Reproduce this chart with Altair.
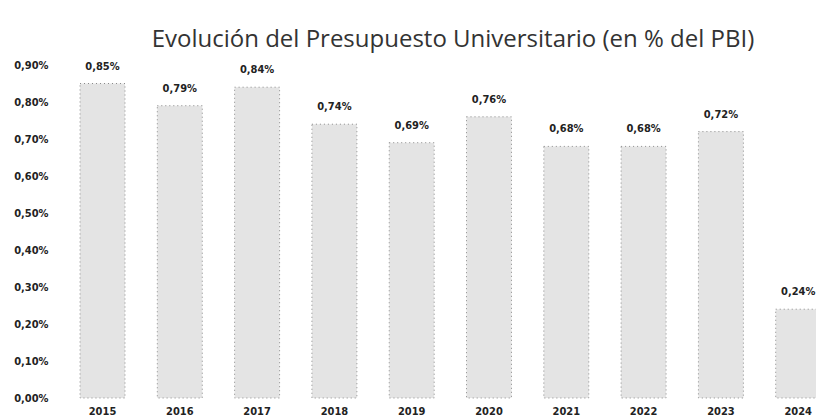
import altair as alt
import pandas as pd

years = ["2015", "2016", "2017", "2018", "2019", "2020", "2021", "2022", "2023", "2024"]
values = [0.85, 0.79, 0.84, 0.74, 0.69, 0.76, 0.68, 0.68, 0.72, 0.24]
y_ticks = [0.0, 0.1, 0.2, 0.3, 0.4, 0.5, 0.6, 0.7, 0.8, 0.9]
title_text = "Evolución del Presupuesto Universitario (en % del PBI)"

df = pd.DataFrame({"anio": years, "valor": values})

LABEL_FONT = "Liberation Sans Narrow, DejaVu Sans Condensed, Liberation Sans, sans-serif"

x_enc = alt.X(
    "anio:N",
    sort=years,
    scale=alt.Scale(range=[18, 758.7], paddingInner=0.418, paddingOuter=0),
    axis=alt.Axis(
        title=None, labelAngle=0, domain=False, ticks=False, grid=False,
        labelFont=LABEL_FONT, labelFontWeight="bold", labelFontSize=11,
        labelColor="#222222", labelPadding=7,
    ),
)
y_enc = alt.Y(
    "valor:Q",
    scale=alt.Scale(domain=[0, 0.9], nice=False),
    axis=alt.Axis(
        title=None, values=y_ticks, domain=False, ticks=False, grid=False,
        labelExpr="replace(format(datum.value, '.2f'), '.', ',') + '%'",
        labelFont=LABEL_FONT, labelFontWeight="bold", labelFontSize=11,
        labelColor="#222222", labelPadding=14,
    ),
)

base = alt.Chart(df).encode(x=x_enc, y=y_enc)

bars = base.mark_bar(
    fill="#e4e4e4", stroke="#8a8a8a", strokeWidth=1, strokeDash=[1, 3]
)

labels = base.transform_calculate(
    etiqueta="replace(format(datum.valor, '.2f'), '.', ',') + '%'"
).mark_text(
    font=LABEL_FONT, fontWeight="bold", fontSize=11, color="#222222",
    baseline="middle", dy=-17,
).encode(text="etiqueta:N")

chart = (
    alt.layer(bars, labels)
    .properties(
        width=754,
        height=333,
        title=alt.TitleParams(
            text=title_text, font="Open Sans", fontSize=24, fontWeight="normal",
            color="#333333", anchor="middle", baseline="alphabetic", offset=-12, dx=14,
            frame="group",
        ),
        autosize=alt.AutoSizeParams(type="none"),
        padding={"left": 54, "top": 57, "right": 0, "bottom": 20},
    )
    .configure(background="white")
    .configure_view(strokeWidth=0, stroke="transparent")
    .configure_axis(grid=False, domain=False, ticks=False)
)

chart.save("out.html", embed_options={"renderer": "svg", "actions": False})
